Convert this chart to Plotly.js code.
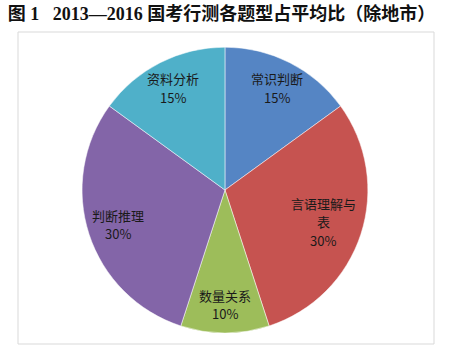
<!DOCTYPE html>
<html>
<head>
<meta charset="utf-8">
<script src="https://cdn.plot.ly/plotly-3.0.1.min.js"></script>
<style>html,body{margin:0;padding:0;background:#fff;}#chart{width:461px;height:351px;}</style>
</head>
<body>
<div id="chart"></div>
<script>
const categories = ["常识判断", "言语理解与表", "数量关系", "判断推理", "资料分析"];
const displayLabels = ["常识判断", "言语理解与<br>表", "数量关系", "判断推理", "资料分析"];
const shares = [15, 30, 10, 30, 15];
const colors = ["#5585c4", "#c65350", "#9dbd5a", "#8365a8", "#4fb0c9"];

const W = 461, H = 351;
const margin = {l: 18, r: 27, t: 32, b: 7};
const domX = [0.154, 0.841], domY = [0.035, 0.952];
const lineGap = 18.5;

const trace = {
  type: "pie",
  labels: categories,
  values: shares,
  textinfo: "none",
  sort: false,
  direction: "clockwise",
  rotation: 0,
  marker: {colors: colors, line: {color: "#ffffff", width: 0.5}},
  hoverinfo: "label+percent",
  domain: {x: domX, y: domY},
  showlegend: false
};

// place labels Excel-style near the outer part of each slice, computed from the data
const pw = W - margin.l - margin.r, ph = H - margin.t - margin.b;
const cxp = margin.l + pw * (domX[0] + domX[1]) / 2;
const cyp = margin.t + ph * (1 - (domY[0] + domY[1]) / 2);
const R = Math.min(pw * (domX[1] - domX[0]), ph * (domY[1] - domY[0])) / 2;
const total = shares.reduce((a, b) => a + b, 0);
let cum = 0;
const annotations = [];
shares.forEach((v, i) => {
  const mid = (cum + v / 2) / total * 2 * Math.PI;
  cum += v;
  const lines = displayLabels[i].split("<br>").concat([Math.round(v / total * 100) + "%"]);
  const hw = Math.max(...lines.map(s => s.length)) * 6.5;
  const hh = lines.length * 8;
  const s = Math.sin(mid), c = -Math.cos(mid);
  let r = 0.8 * R;
  while (r > 0) {
    const dx = Math.abs(r * s) + hw, dy = Math.abs(r * c) + hh;
    if (Math.hypot(dx, dy) <= R) break;
    r -= 1;
  }
  const x = cxp + r * s, y = cyp + r * c;
  lines.forEach((t, k) => {
    annotations.push({
      xref: "paper", yref: "paper",
      x: (x - margin.l) / pw, y: 1 - (y - margin.t) / ph,
      yshift: ((lines.length - 1) / 2 - k) * lineGap,
      xanchor: "center", yanchor: "middle", showarrow: false,
      text: t,
      font: {family: "Noto Sans CJK SC", size: 13, color: "#1a1a1a"}
    });
  });
});

const layout = {
  width: W, height: H,
  margin: margin,
  paper_bgcolor: "#ffffff",
  title: {
    text: "<b>图 1   2013—2016 国考行测各题型占平均比（除地市）</b>",
    font: {family: "Liberation Serif, Noto Sans CJK SC", size: 18, color: "#111"},
    x: 0.017, xanchor: "left", xref: "container",
    y: 0.962, yanchor: "middle", yref: "container"
  },
  annotations: annotations,
  shapes: [{
    type: "rect", xref: "paper", yref: "paper", x0: 0, x1: 1, y0: 0, y1: 1,
    line: {color: "#d9d9d9", width: 1}
  }]
};

Plotly.newPlot("chart", [trace], layout, {displayModeBar: false, staticPlot: true});
</script>
</body>
</html>
